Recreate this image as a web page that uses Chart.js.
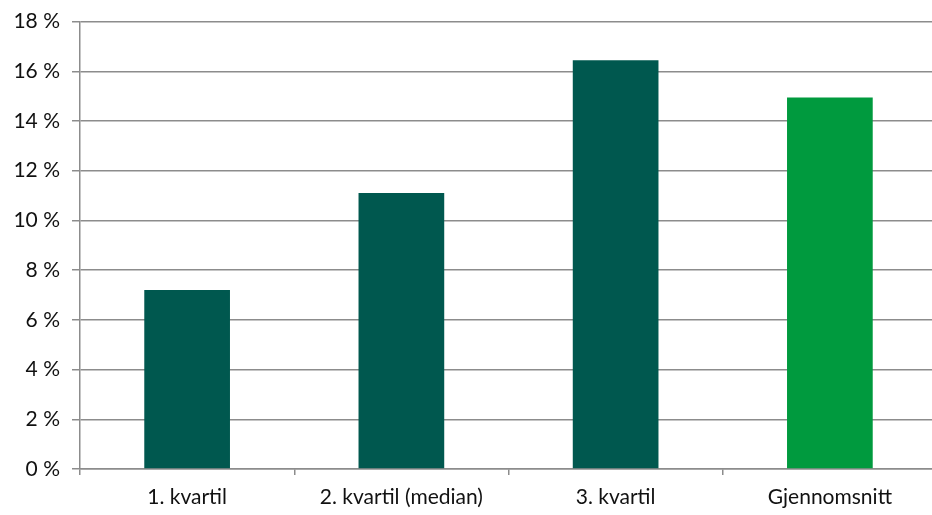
<!DOCTYPE html>
<html>
<head>
<meta charset="utf-8">
<script src="https://cdn.jsdelivr.net/npm/chart.js@4"></script>
<style>
  html, body { margin: 0; padding: 0; background: #fff; overflow: hidden; }
  #wrap { position: absolute; left: 0; top: -3px; width: 937px; height: 518px; }
</style>
</head>
<body>
<div id="wrap"><canvas id="kvartilChart"></canvas></div>
<script>
const categories = ['1. kvartil', '2. kvartil (median)', '3. kvartil', 'Gjennomsnitt'];
const values = [7.2, 11.1, 16.45, 14.95];
const barColors = ['#00584F', '#00584F', '#00584F', '#009A3E'];

window.onload = function() {
    const ctx = document.getElementById('kvartilChart').getContext('2d');
    new Chart(ctx, {
        type: 'bar',
        data: {
            labels: categories,
            datasets: [{
                data: values,
                backgroundColor: barColors,
                borderWidth: 0,
                barPercentage: 0.4,
                categoryPercentage: 1.0
            }]
        },
        options: {
            responsive: true,
            maintainAspectRatio: false,
            animation: false,
            layout: { padding: { top: 14, right: 0, left: 0, bottom: 0 } },
            plugins: {
                legend: { display: false },
                tooltip: { enabled: false }
            },
            scales: {
                y: {
                    min: 0,
                    max: 18,
                    ticks: {
                        stepSize: 2,
                        color: '#111',
                        padding: 12,
                        font: { family: 'Lato', size: 21 },
                        callback: v => v + ' %'
                    },
                    grid: {
                        color: '#8c8c8c',
                        lineWidth: 1.5,
                        tickLength: 8
                    },
                    border: { color: '#8c8c8c', width: 1.5 },
                    afterFit: scale => { scale.width = 80; }
                },
                x: {
                    ticks: {
                        color: '#111',
                        padding: 10,
                        font: { family: 'Lato', size: 21 }
                    },
                    grid: {
                        offset: true,
                        drawOnChartArea: false,
                        color: '#8c8c8c',
                        lineWidth: 1.5,
                        tickLength: 6
                    },
                    border: { color: '#8c8c8c', width: 1.5 },
                    afterFit: scale => { scale.height = 46; }
                }
            }
        }
    });
};
</script>
</body>
</html>
